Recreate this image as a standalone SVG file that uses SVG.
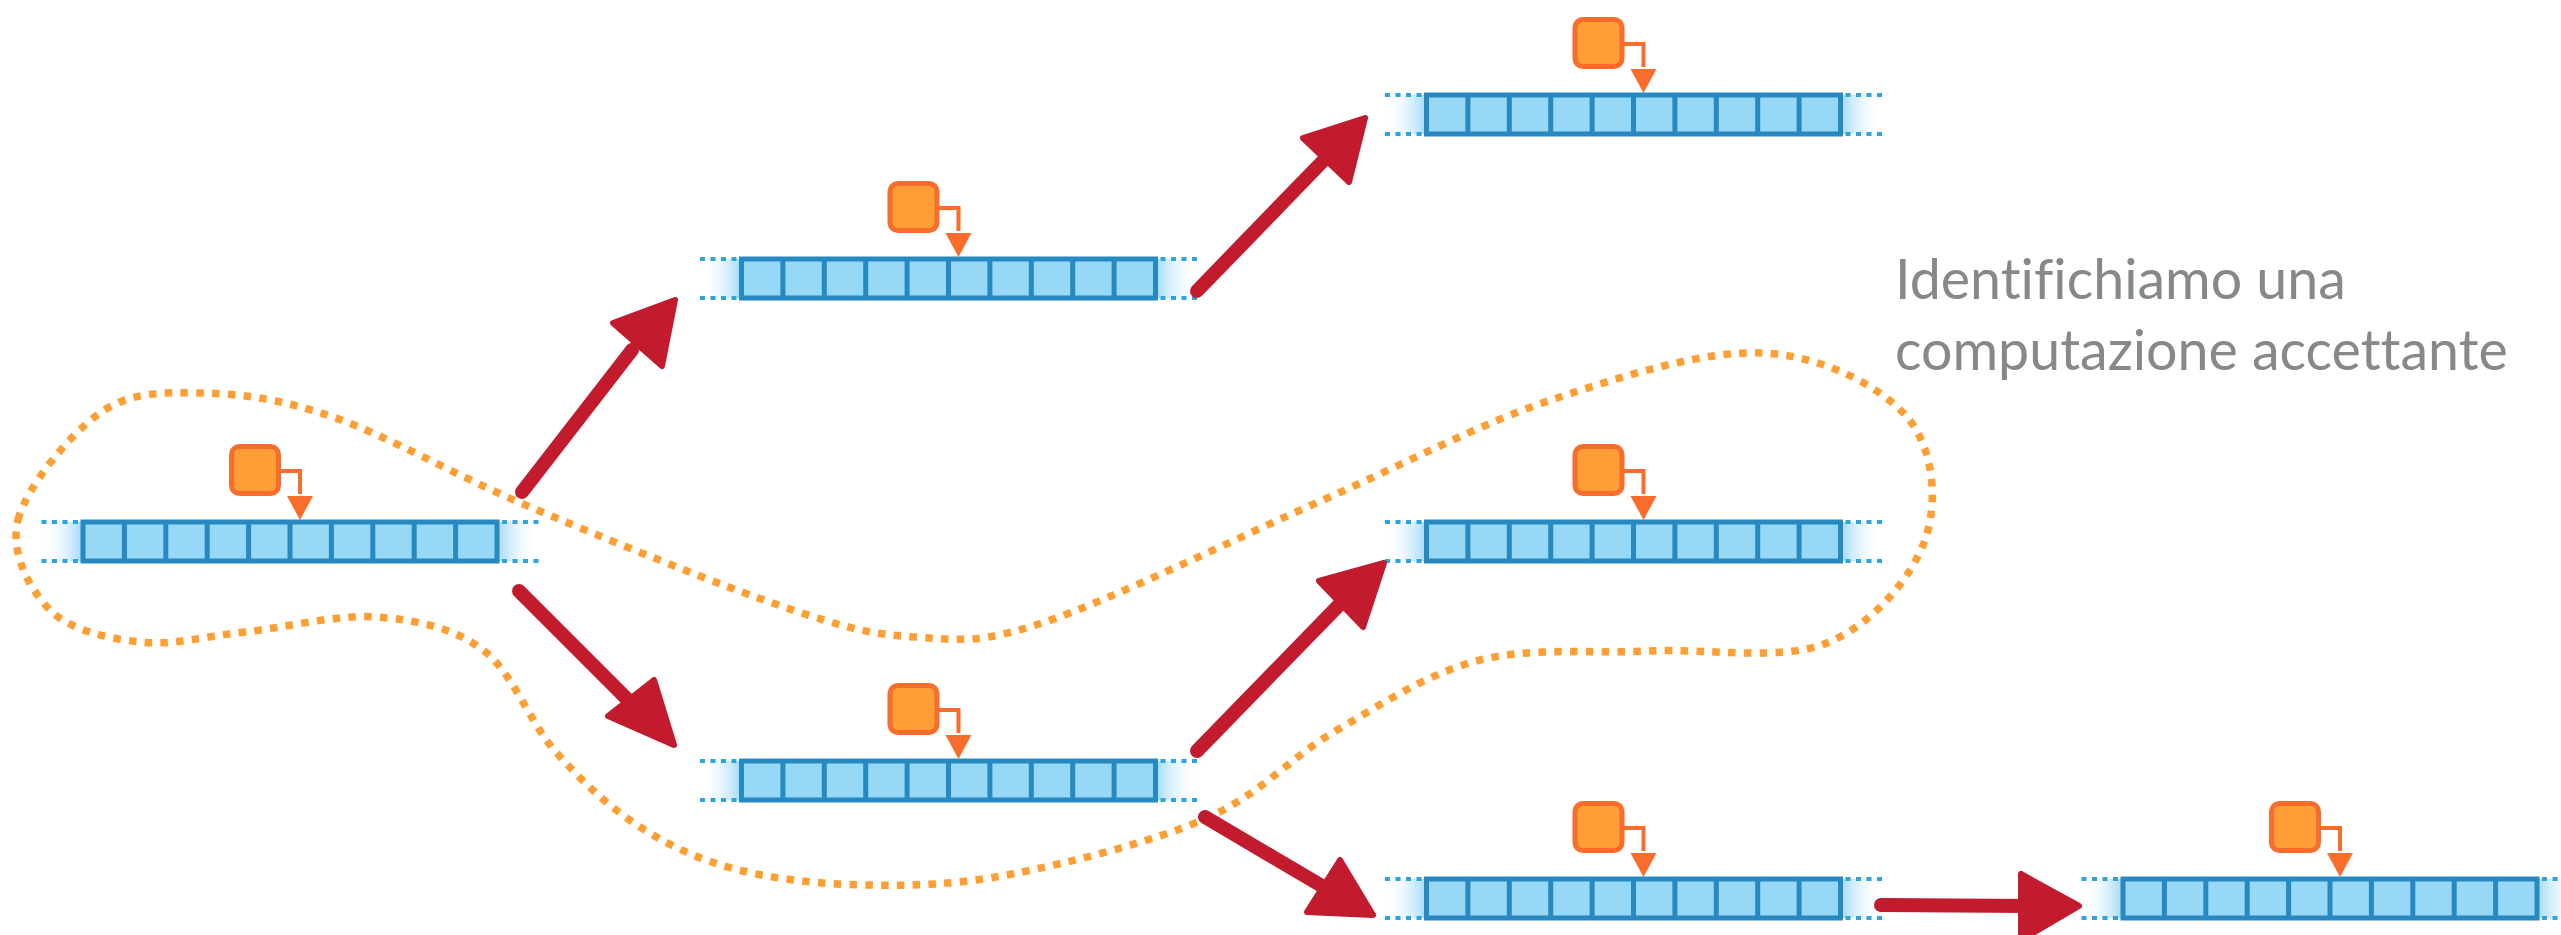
<svg xmlns="http://www.w3.org/2000/svg" xmlns:xlink="http://www.w3.org/1999/xlink" width="2561" height="935" viewBox="0 0 2561 935">
  <style>
    .cells { fill: #96d8f5; stroke: #2789c1; stroke-width: 5; }
    .divider { stroke: #2789c1; stroke-width: 5; }
    .edge { stroke: #2ca4de; stroke-width: 4; stroke-dasharray: 5 5.5; fill: none; }
    .head-box { fill: #ff9e36; stroke: #f86d2b; stroke-width: 5; }
    .head-link { fill: none; stroke: #f86d2b; stroke-width: 4; }
    .head-tip { fill: #f86d2b; }
    .loop { fill: none; stroke: #ff9f33; stroke-width: 7.5; stroke-dasharray: 7.5 8.3; }
    .step-shaft { stroke: #c21b2e; stroke-width: 14; stroke-linecap: round; fill: none; }
    .step-head { fill: #c21b2e; stroke: #c21b2e; stroke-width: 6; stroke-linejoin: round; }
    .caption { font-family: Lato, "Open Sans", sans-serif; font-size: 55.5px; fill: #868989; font-variant-ligatures: none; font-feature-settings: "liga" 0; }
  </style>
  <defs>
    <linearGradient id="fadeL" x1="0" y1="0" x2="1" y2="0">
      <stop offset="0" stop-color="#ffffff" stop-opacity="0"/>
      <stop offset="1" stop-color="#a8dcf6"/>
    </linearGradient>
    <linearGradient id="fadeR" x1="0" y1="0" x2="1" y2="0">
      <stop offset="0" stop-color="#a8dcf6"/>
      <stop offset="1" stop-color="#ffffff" stop-opacity="0"/>
    </linearGradient>
    <!-- one tape with its read/write head; origin = top-left corner of the cells -->
    <g id="tape">
      <rect x="-42" y="0" width="40" height="39" fill="url(#fadeL)"/>
      <rect x="416" y="0" width="40" height="39" fill="url(#fadeR)"/>
      <path class="edge" d="M-41.5 0H-4M-41.5 39H-4M419 0H456M419 39H456"/>
      <rect class="cells" x="0" y="0" width="414" height="39"/>
      <path class="divider" d="M41.4 0V39M82.8 0V39M124.2 0V39M165.6 0V39M207 0V39M248.4 0V39M289.8 0V39M331.2 0V39M372.6 0V39"/>
      <rect class="head-box" x="148.5" y="-75.5" width="47" height="47" rx="8"/>
      <path class="head-link" d="M197 -51H217V-28"/>
      <polygon class="head-tip" points="204,-26 230,-26 217,-2"/>
    </g>
  </defs>

  <!-- highlighted accepting branch -->
  <path class="loop" d="M18 520 C26.3 487.2 69.7 434.2 100 413 C130.3 391.8 161.2 392.3 200 393 C238.8 393.7 278 398 333 417 C388 436 454.8 475.3 530 507 C605.2 538.7 719.8 585.3 784 607 C848.2 628.7 871.5 634.5 915 637 C958.5 639.5 977 644.8 1045 622 C1113 599.2 1238.7 537 1323 500 C1407.3 463 1477.7 424.5 1551 400 C1624.3 375.5 1703.7 350.2 1763 353 C1822.3 355.8 1880 385.8 1907 417 C1934 448.2 1938.3 502.3 1925 540 C1911.7 577.7 1872.8 624.5 1827 643 C1781.2 661.5 1707.8 648.2 1650 651 C1592.2 653.8 1532.2 646.8 1480 660 C1427.8 673.2 1382.5 703.7 1337 730 C1291.5 756.3 1261.2 794 1207 818 C1152.8 842 1069 862.8 1012 874 C955 885.2 911.2 885.8 865 885 C818.8 884.2 773 879 735 869 C697 859 667 844.7 637 825 C607 805.3 580.7 780.2 555 751 C529.3 721.8 512.7 672.3 483 650 C453.3 627.7 416.7 620 377 617 C337.3 614 284.5 627.8 245 632 C205.5 636.2 172.5 645.7 140 642 C107.5 638.3 70.3 630.3 50 610 C29.7 589.7 9.7 552.8 18 520 Z"/>

  <!-- configurations -->
  <g id="config-start" transform="translate(83,522)"><use xlink:href="#tape"/></g>
  <g id="config-up" transform="translate(741.5,259)"><use xlink:href="#tape"/></g>
  <g id="config-up-up" transform="translate(1426.5,95)"><use xlink:href="#tape"/></g>
  <g id="config-down" transform="translate(741.5,761)"><use xlink:href="#tape"/></g>
  <g id="config-down-up" transform="translate(1426.5,522)"><use xlink:href="#tape"/></g>
  <g id="config-down-down" transform="translate(1426.5,879)"><use xlink:href="#tape"/></g>
  <g id="config-last" transform="translate(2123,879)"><use xlink:href="#tape"/></g>

  <!-- transitions -->
  <g id="transitions">
    <g>
      <line class="step-shaft" x1="522" y1="492" x2="632" y2="350"/>
      <polygon class="step-head" points="675,300 613,323 662,366"/>
    </g>
    <g>
      <line class="step-shaft" x1="1197" y1="291" x2="1322" y2="162"/>
      <polygon class="step-head" points="1365,118 1303,138 1349,182"/>
    </g>
    <g>
      <line class="step-shaft" x1="519" y1="591" x2="628" y2="700"/>
      <polygon class="step-head" points="674,745 608,716 654,680"/>
    </g>
    <g>
      <line class="step-shaft" x1="1197" y1="751" x2="1340" y2="604"/>
      <polygon class="step-head" points="1384,563 1319,581 1363,627"/>
    </g>
    <g>
      <line class="step-shaft" x1="1205" y1="817" x2="1322" y2="886"/>
      <polygon class="step-head" points="1373,915 1307,912 1340,860"/>
    </g>
    <g>
      <line class="step-shaft" x1="1881" y1="905" x2="2030" y2="906"/>
      <polygon class="step-head" points="2079,906 2021,874 2021,940"/>
    </g>
  </g>

  <g id="caption">
    <text class="caption" x="1895" y="299">Identifichiamo una</text>
    <text class="caption" x="1895" y="370">computazione accettante</text>
  </g>
</svg>
